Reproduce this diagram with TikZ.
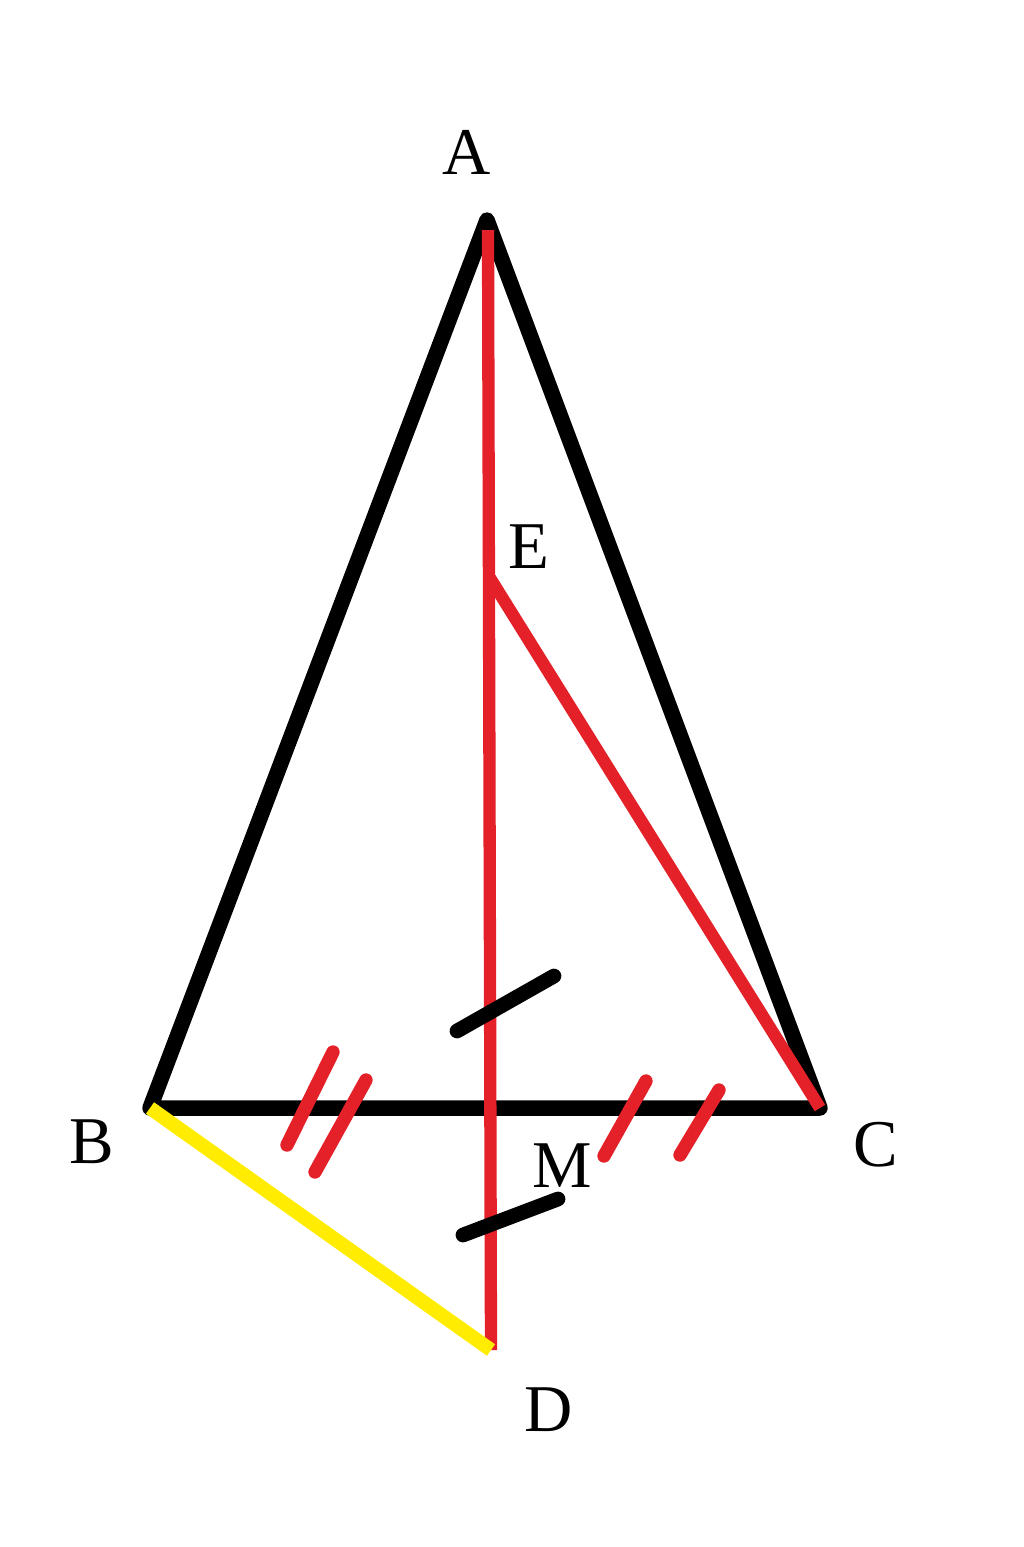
\documentclass[tikz,border=0pt]{standalone}
\usepackage{fontspec}
\setmainfont{Liberation Serif}
\definecolor{segred}{RGB}{228,32,40}
\definecolor{segyellow}{RGB}{255,236,0}
\begin{document}
\begin{tikzpicture}[x=0.01cm, y=-0.01cm, line join=round,
  side/.style={line width=4.4pt, black},
  aux/.style={line width=3.5pt, segred},
  tickmark/.style={line width=3.8pt, line cap=round},
  lbl/.style={font=\fontsize{19}{22}\selectfont}]
\useasboundingbox (0,0) rectangle (1024,1547);

\coordinate (A) at (487,220);
\coordinate (B) at (150,1108);
\coordinate (C) at (820,1108);
\coordinate (E) at (490,578);
\coordinate (D) at (491,1350);
\coordinate (Atop) at (488,230);

\draw[side] (A) -- (B) -- (C) -- cycle;
\draw[aux] (Atop) -- (D);
\draw[aux] (E) -- (C);
\draw[line width=4pt, segyellow] (B) -- (D);

% equal halves of BC
\draw[tickmark, segred] (287,1145) -- (333,1052);
\draw[tickmark, segred] (315,1172) -- (366,1080);
\draw[tickmark, segred] (604,1156) -- (646,1081);
\draw[tickmark, segred] (680,1155) -- (719,1090);

% equal halves of AD at M
\draw[tickmark, black, line width=4.2pt] (457,1031) -- (554,976);
\draw[tickmark, black, line width=4.2pt] (463,1235) -- (558,1199);

\node[lbl] (lA) at (467,152) {A};
\node[lbl] (lE) at (529,547) {E};
\node[lbl] (lB) at (92,1142) {B};
\node[lbl] (lC) at (876,1145) {C};
\node[lbl] (lM) at (562,1166) {M};
\node[lbl] (lD) at (549,1410) {D};
\end{tikzpicture}
\end{document}
